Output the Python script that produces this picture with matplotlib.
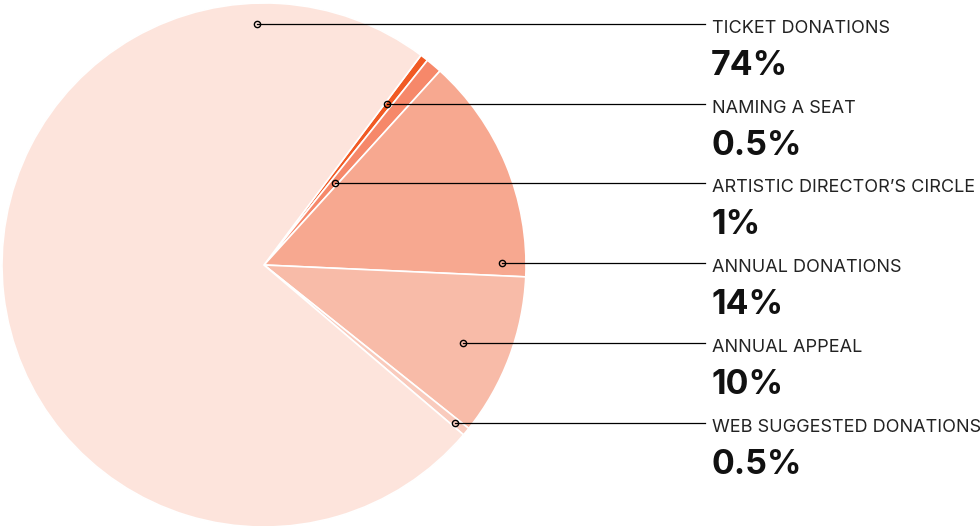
import matplotlib
matplotlib.use("Agg")
import matplotlib.pyplot as plt
import numpy as np

# slices, clockwise from the top right
names = ["TICKET DONATIONS", "NAMING A SEAT", "ARTISTIC DIRECTOR\u2019S CIRCLE",
         "ANNUAL DONATIONS", "ANNUAL APPEAL", "WEB SUGGESTED DONATIONS"]
shares = [74, 0.5, 1, 14, 10, 0.5]
share_text = ["74%", "0.5%", "1%", "14%", "10%", "0.5%"]
colors = ["#fde4dc", "#f15a24", "#f6886a", "#f7a890", "#f8bba8", "#f9cbbd"]

# pie is drawn in order naming -> ... -> ticket
order = [1, 2, 3, 4, 5, 0]

# where each leader line starts inside its slice (pixels from the centre)
anchor_dx = [-7, 123, 71, 238, 199, 191]

plt.rcParams["font.family"] = ["Inter", "DejaVu Sans"]

fig = plt.figure(figsize=(9.8, 5.26), dpi=100)
ax = fig.add_axes([0, 0, 1, 1])

R = 262
cx, cy = 264, 265
ax.pie([shares[i] for i in order], colors=[colors[i] for i in order],
       radius=R, startangle=53.2, counterclock=False,
       wedgeprops=dict(edgecolor="white", linewidth=1.2))
ax.set_xlim(-cx, 980 - cx)
ax.set_ylim(-(526 - cy), cy)
ax.set_aspect("equal")
ax.axis("off")

line_top = 265 - 24   # y of first leader line, relative to centre
step = 79.7
for k, name in enumerate(names):
    y = line_top - k * step
    ax.plot([anchor_dx[k], 705 - cx], [y, y], color="black", lw=0.9, zorder=3)
    ax.plot(anchor_dx[k], y, "o", ms=4.5, mfc="none", mec="black", mew=1, zorder=4)
    ax.text(712 - cx, y - 4.5, name, fontsize=13, color="#222222", va="center", ha="left")
    ax.text(711 - cx, y - 42, share_text[k], fontsize=24.5, fontweight="bold",
            color="#111111", va="center", ha="left")

fig.savefig("out.png", dpi=100)
